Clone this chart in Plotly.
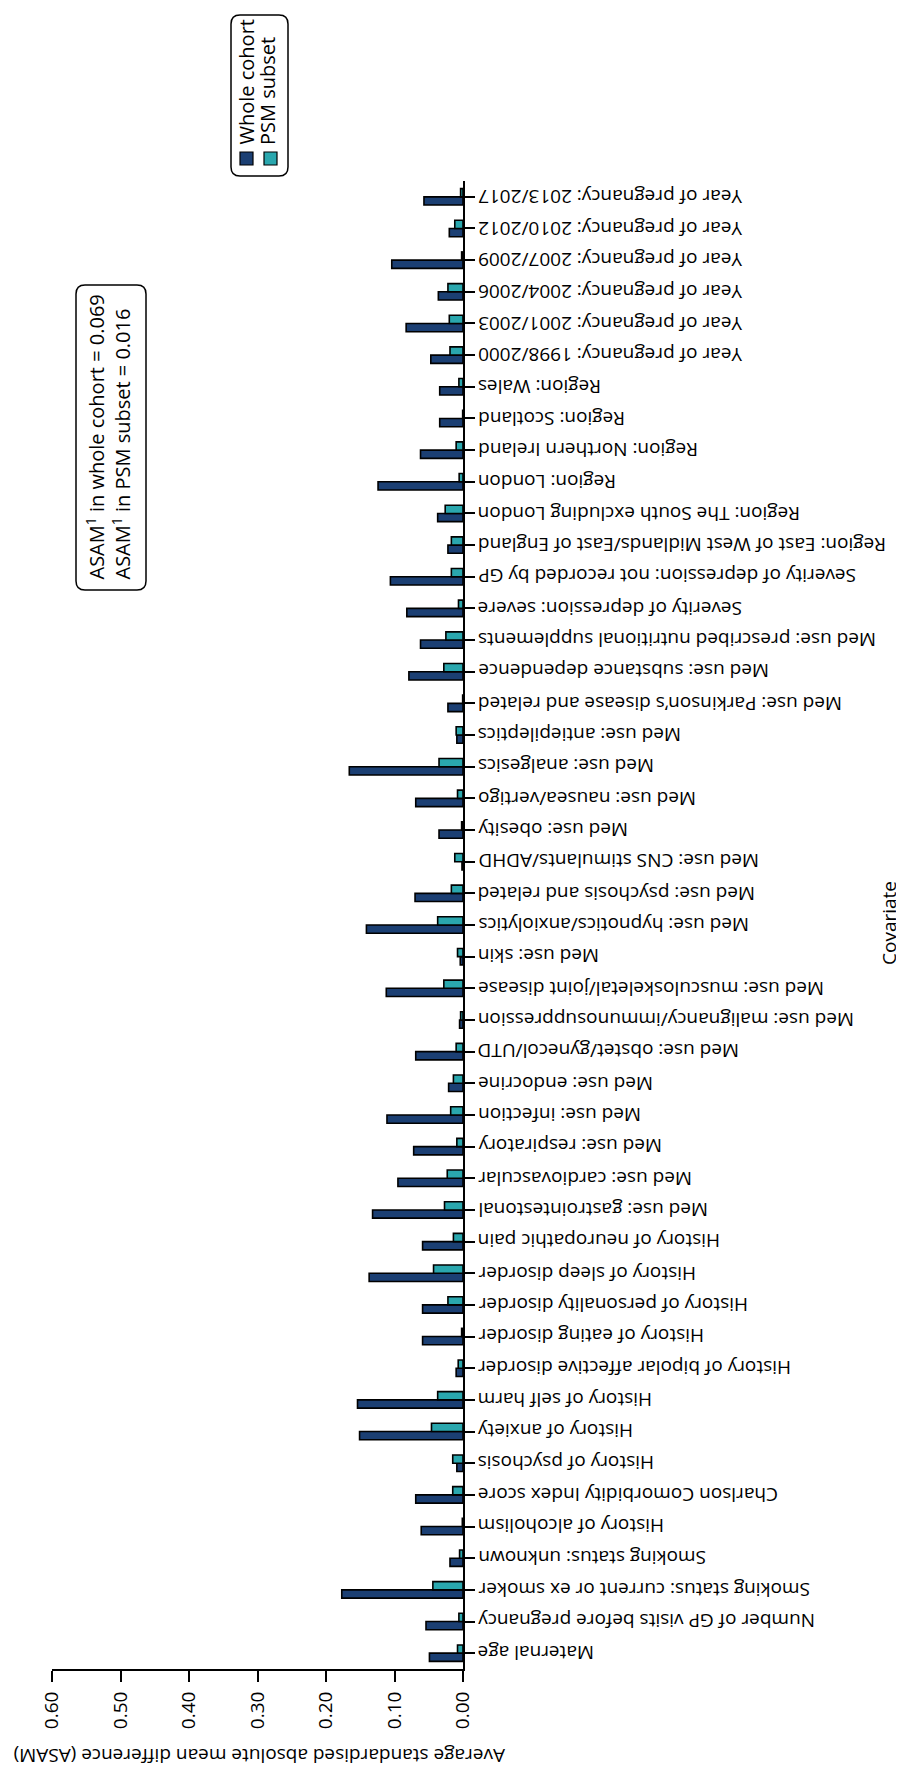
import plotly.graph_objects as go

# ---------------- data ----------------
categories = [
    "Maternal age",
    "Number of GP visits before pregnancy",
    "Smoking status: current or ex smoker",
    "Smoking status: unknown",
    "History of alcoholism",
    "Charlson Comorbidity Index score",
    "History of psychosis",
    "History of anxiety",
    "History of self harm",
    "History of bipolar affective disorder",
    "History of eating disorder",
    "History of personality disorder",
    "History of sleep disorder",
    "History of neuropathic pain",
    "Med use: gastrointestonal",
    "Med use: cardiovascular",
    "Med use: respiratory",
    "Med use: infection",
    "Med use: endocrine",
    "Med use: obstet/gynecol/UTD",
    "Med use: malignancy/immunosuppression",
    "Med use: musculoskeletal/joint disease",
    "Med use: skin",
    "Med use: hypnotics/anxiolytics",
    "Med use: psychosis and related",
    "Med use: CNS stimulants/ADHD",
    "Med use: obesity",
    "Med use: nausea/vertigo",
    "Med use: analgesics",
    "Med use: antiepileptics",
    "Med use: Parkinson\u2019s disease and related",
    "Med use: substance dependence",
    "Med use: prescribed nutritional supplements",
    "Severity of depression: severe",
    "Severity of depression: not recorded by GP",
    "Region: East of West Midlands/East of England",
    "Region: The South excluding London",
    "Region: London",
    "Region: Northern Ireland",
    "Region: Scotland",
    "Region: Wales",
    "Year of pregnancy: 1998/2000",
    "Year of pregnancy: 2001/2003",
    "Year of pregnancy: 2004/2006",
    "Year of pregnancy: 2007/2009",
    "Year of pregnancy: 2010/2012",
    "Year of pregnancy: 2013/2017",
]

whole_cohort = [
    0.049, 0.054, 0.177, 0.019, 0.061, 0.069, 0.009, 0.151, 0.154, 0.010,
    0.059, 0.059, 0.137, 0.059, 0.132, 0.095, 0.072, 0.111, 0.021,
    0.069, 0.005, 0.112, 0.004, 0.141, 0.070, 0.0015, 0.035, 0.069, 0.166,
    0.009, 0.022, 0.079, 0.062, 0.082, 0.106, 0.022, 0.037, 0.124,
    0.062, 0.034, 0.034, 0.047, 0.083, 0.036, 0.104, 0.020, 0.057,
]

psm_subset = [
    0.008, 0.006, 0.044, 0.005, 0.001, 0.015, 0.015, 0.046, 0.037, 0.007,
    0.002, 0.022, 0.043, 0.014, 0.027, 0.023, 0.009, 0.018, 0.014,
    0.010, 0.0035, 0.028, 0.008, 0.037, 0.017, 0.012, 0.002, 0.008, 0.035,
    0.010, 0.0005, 0.028, 0.025, 0.0066, 0.017, 0.017, 0.026, 0.0056,
    0.010, 0.0005, 0.006, 0.019, 0.020, 0.022, 0.002, 0.012, 0.0035,
]

series_names = ["Whole cohort", "PSM subset"]
x_ticks = [0.0, 0.1, 0.2, 0.3, 0.4, 0.5, 0.6]
x_tick_labels = ["0.00", "0.10", "0.20", "0.30", "0.40", "0.50", "0.60"]
x_title = "Average standardised absolute mean difference (ASAM)"
y_title = "Covariate"
asam_whole = "0.069"
asam_psm = "0.016"

# ---------------- styling ----------------
DARK = "#1b3f73"
TEAL = "#2aa7ae"
FONT = "Open Sans"
FS = 19
FS_BOX = 20

W, H = 904, 1765
PL, PR, PT, PB = 44, 455, 173, 1661  # plot-area edges in pixels


def px(x):
    return (x - PL) / (PR - PL)


def py(y):
    return (PB - y) / (PB - PT)


def rrect(x0, y0, x1, y1, r):
    return (
        f"M {px(x0 + r)},{py(y0)} L {px(x1 - r)},{py(y0)} "
        f"Q {px(x1)},{py(y0)} {px(x1)},{py(y0 + r)} "
        f"L {px(x1)},{py(y1 - r)} Q {px(x1)},{py(y1)} {px(x1 - r)},{py(y1)} "
        f"L {px(x0 + r)},{py(y1)} Q {px(x0)},{py(y1)} {px(x0)},{py(y1 - r)} "
        f"L {px(x0)},{py(y0 + r)} Q {px(x0)},{py(y0)} {px(x0 + r)},{py(y0)} Z"
    )


fig = go.Figure()
fig.add_trace(go.Bar(
    y=categories, x=whole_cohort, orientation="h", name=series_names[0],
    marker=dict(color=DARK, line=dict(color="black", width=1.6)),
))
fig.add_trace(go.Bar(
    y=categories, x=psm_subset, orientation="h", name=series_names[1],
    marker=dict(color=TEAL, line=dict(color="black", width=1.6)),
))

annotations = []
# category labels (upside-down)
for c in categories:
    annotations.append(dict(
        x=1, xref="paper", y=c, yref="y", text=c, showarrow=False,
        textangle=180, xanchor="left", yanchor="middle", xshift=13,
        font=dict(family=FONT, size=FS, color="black"),
    ))
# value-axis title (upside-down)
annotations.append(dict(
    x=px(252), y=py(1748), xref="paper", yref="paper", text=x_title,
    showarrow=False, textangle=180, xanchor="center", yanchor="middle",
    font=dict(family=FONT, size=FS, color="black"),
))
# category-axis title
annotations.append(dict(
    x=px(881), y=py(915), xref="paper", yref="paper", text=y_title,
    showarrow=False, textangle=-90, xanchor="center", yanchor="middle",
    font=dict(family=FONT, size=FS, color="black"),
))
# legend texts
annotations.append(dict(
    x=px(238), y=py(139), xref="paper", yref="paper", text=series_names[0],
    showarrow=False, textangle=-90, xanchor="center", yanchor="bottom",
    font=dict(family=FONT, size=FS_BOX, color="black"),
))
annotations.append(dict(
    x=px(260), y=py(139), xref="paper", yref="paper", text=series_names[1],
    showarrow=False, textangle=-90, xanchor="center", yanchor="bottom",
    font=dict(family=FONT, size=FS_BOX, color="black"),
))
# ASAM summary box text
annotations.append(dict(
    x=px(100), y=py(574), xref="paper", yref="paper",
    text=(f"ASAM<sup>1</sup> in whole cohort = {asam_whole}<br>"
          f"ASAM<sup>1</sup> in PSM subset = {asam_psm}"),
    showarrow=False, textangle=-90, xanchor="center", yanchor="bottom",
    align="left", font=dict(family=FONT, size=FS_BOX, color="black"),
))

shapes = [
    dict(type="path", xref="paper", yref="paper", path=rrect(223, 7, 280, 168, 9),
         line=dict(color="black", width=1.5), fillcolor="rgba(0,0,0,0)"),
    dict(type="rect", xref="paper", yref="paper",
         x0=px(232), x1=px(245), y0=py(157), y1=py(144),
         line=dict(color="black", width=1.2), fillcolor=DARK),
    dict(type="rect", xref="paper", yref="paper",
         x0=px(256), x1=px(269), y0=py(157), y1=py(144),
         line=dict(color="black", width=1.2), fillcolor=TEAL),
    dict(type="path", xref="paper", yref="paper", path=rrect(68, 277, 138, 582, 9),
         line=dict(color="black", width=1.5), fillcolor="rgba(0,0,0,0)"),
]

fig.update_layout(
    width=W, height=H,
    margin=dict(l=PL, r=W - PR, t=PT, b=H - PB, pad=0),
    barmode="group", bargap=0.48, bargroupgap=0,
    showlegend=False,
    plot_bgcolor="white", paper_bgcolor="white",
    font=dict(family=FONT, size=FS, color="black"),
    annotations=annotations, shapes=shapes,
)
fig.update_xaxes(
    range=[0.6, 0], tickvals=x_ticks, ticktext=x_tick_labels, tickangle=-90,
    showline=True, linecolor="black", linewidth=2, mirror=False,
    ticks="outside", ticklen=11, tickwidth=2, tickcolor="black",
    showgrid=False, zeroline=False, ticklabelstandoff=2,
    tickfont=dict(family=FONT, size=FS, color="black"),
)
fig.update_yaxes(
    type="category", categoryorder="array", categoryarray=categories,
    range=[-0.5, len(categories) - 0.5], side="right",
    showline=True, linecolor="black", linewidth=2,
    ticks="outside", ticklen=10, tickwidth=1.5, tickcolor="black",
    showticklabels=False, showgrid=False, zeroline=False,
)

fig.write_html("out.html")
